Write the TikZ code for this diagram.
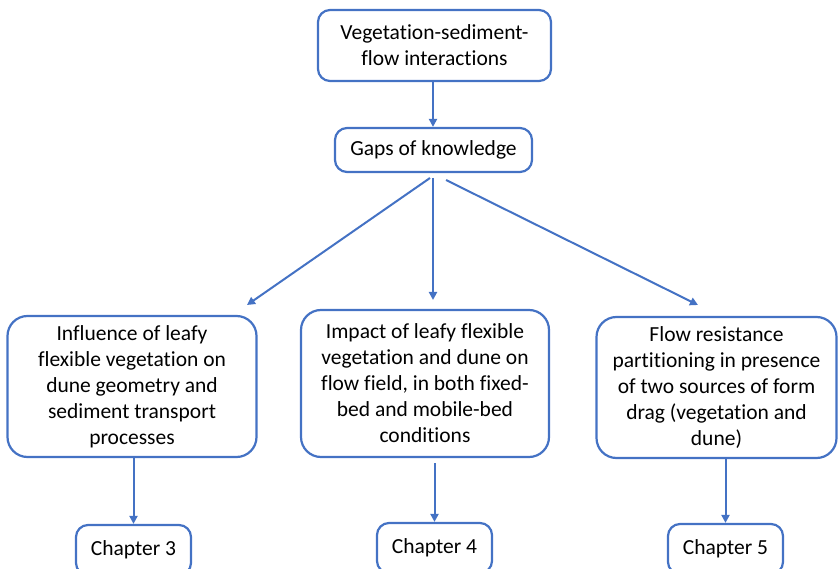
\documentclass[tikz,border=0pt]{standalone}
\usepackage{fontspec}
\setmainfont[Ligatures=NoCommon,RawFeature=-liga]{Carlito}
\usetikzlibrary{arrows.meta}
\definecolor{bl}{HTML}{4472C4}
\begin{document}
\begin{tikzpicture}[x=1pt,y=-1pt,
  box/.style={draw=bl,line width=2.2pt,rounded corners=20pt,align=center,inner sep=0pt,
    font=\fontsize{21.5}{26}\selectfont},
  smallbox/.style={box,rounded corners=12pt},
  arr/.style={draw=bl,line width=2pt,-{Triangle[length=8pt,width=8pt]}}]
\useasboundingbox (0,0) rectangle (838,569);
\node[smallbox,minimum width=233pt,minimum height=71pt] (top) at (434.5,45.5) {Vegetation-sediment-\\flow interactions};
\node[smallbox,minimum width=197pt,minimum height=44pt] (gaps) at (433.5,150) {Gaps of knowledge};
\node[box,minimum width=249pt,minimum height=141pt] (left) at (132,386.5) {Influence of leafy\\flexible vegetation on\\dune geometry and\\sediment transport\\processes};
\node[box,minimum width=248pt,minimum height=147pt] (mid) at (425,383.5) {Impact of leafy flexible\\vegetation and dune on\\flow field, in both fixed-\\bed and mobile-bed\\conditions};
\node[box,minimum width=240pt,minimum height=141pt] (right) at (716.5,387.5) {Flow resistance\\partitioning in presence\\of two sources of form\\drag (vegetation and\\dune)};
\node[smallbox,minimum width=115pt,minimum height=50pt] (c3) at (133.5,550) {Chapter 3};
\node[smallbox,minimum width=115pt,minimum height=50pt] (c4) at (434.5,548) {Chapter 4};
\node[smallbox,minimum width=115pt,minimum height=50pt] (c5) at (725.5,549) {Chapter 5};
\coordinate (g1) at (430,178);
\coordinate (g2) at (433,178);
\coordinate (g3) at (446,180);
\coordinate (e1) at (247,305);
\coordinate (e2) at (433,300);
\coordinate (e3) at (698,305);
\draw[arr] (top.south -| 433,0) -- (gaps.north -| 433,0);
\draw[arr] (g1) -- (e1);
\draw[arr] (g2) -- (e2);
\draw[arr] (g3) -- (e3);
\draw[arr] (left.south -| c3) -- (c3.north);
\draw[arr] ([yshift=-5pt]mid.south -| c4) -- (c4.north);
\draw[arr] (right.south -| c5) -- (c5.north);
\end{tikzpicture}
\end{document}
